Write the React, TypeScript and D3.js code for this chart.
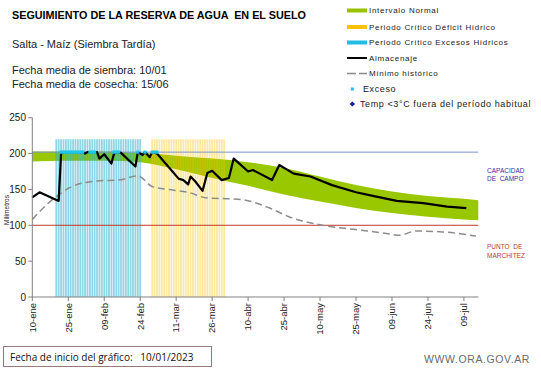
import React from "react";
import * as d3 from "d3";

const W = 541;
const H = 368;

const startDate = "2023-01-10";
const endDate = "2023-07-15";
const tickLabels = ["10-ene", "25-ene", "09-feb", "24-feb", "11-mar", "26-mar", "10-abr", "25-abr", "10-may", "25-may", "09-jun", "24-jun", "09-jul"];
const yTicks = [0, 50, 100, 150, 200, 250];

const capacidadCampo = 202;
const puntoMarchitez = 100;
const periodoTope = 220;
const periodoExcesos = ["2023-01-20", "2023-02-24"];
const periodoDeficit = ["2023-03-01", "2023-03-31"];

// [fecha, superior, inferior]
const intervaloNormal: [string, number, number][] = [
  ["2023-01-10", 203, 189],
  ["2023-01-25", 203, 190],
  ["2023-02-09", 203, 190],
  ["2023-02-24", 201, 188],
  ["2023-03-11", 197, 178],
  ["2023-03-26", 193, 166],
  ["2023-04-10", 188, 155],
  ["2023-04-25", 180, 143],
  ["2023-05-10", 168, 133],
  ["2023-05-25", 156, 124],
  ["2023-06-09", 147, 117],
  ["2023-06-24", 141, 112],
  ["2023-07-09", 137, 108],
  ["2023-07-15", 135, 107],
];

const almacenaje: [string, number][] = [
  ["2023-01-10", 139], ["2023-01-13", 146], ["2023-01-21", 134], ["2023-01-22", 200],
  ["2023-01-23", 202], ["2023-01-31", 202], ["2023-02-01", 200], ["2023-02-02", 202],
  ["2023-02-06", 202], ["2023-02-07", 193], ["2023-02-09", 199], ["2023-02-12", 186],
  ["2023-02-13", 199], ["2023-02-14", 202], ["2023-02-16", 201], ["2023-02-22", 182],
  ["2023-02-23", 202], ["2023-02-25", 198], ["2023-02-26", 202], ["2023-02-28", 195],
  ["2023-03-01", 202], ["2023-03-03", 200], ["2023-03-10", 173], ["2023-03-12", 165],
  ["2023-03-14", 163], ["2023-03-16", 157], ["2023-03-17", 168], ["2023-03-19", 161],
  ["2023-03-22", 148], ["2023-03-24", 173], ["2023-03-26", 176], ["2023-03-30", 163],
  ["2023-04-02", 166], ["2023-04-04", 193], ["2023-04-06", 187], ["2023-04-10", 175],
  ["2023-04-12", 177], ["2023-04-20", 163], ["2023-04-23", 184], ["2023-04-29", 172],
  ["2023-05-06", 168], ["2023-05-15", 156], ["2023-05-25", 146], ["2023-06-01", 141],
  ["2023-06-11", 134], ["2023-06-22", 131], ["2023-07-02", 126], ["2023-07-10", 124],
];

const minimoHistorico: [string, number][] = [
  ["2023-01-10", 108], ["2023-01-13", 119], ["2023-01-20", 140], ["2023-01-28", 156],
  ["2023-02-07", 162], ["2023-02-15", 163], ["2023-02-23", 169], ["2023-03-01", 154],
  ["2023-03-10", 149], ["2023-03-16", 146], ["2023-03-24", 138], ["2023-04-01", 137],
  ["2023-04-07", 136], ["2023-04-19", 124], ["2023-04-27", 112], ["2023-05-11", 100],
  ["2023-05-25", 94], ["2023-06-08", 88], ["2023-06-12", 86], ["2023-06-19", 92],
  ["2023-06-29", 91], ["2023-07-14", 85],
];

const excesoDias = [
  "2023-01-22", "2023-01-23", "2023-01-24", "2023-01-25", "2023-01-26", "2023-01-27",
  "2023-01-28", "2023-01-29", "2023-01-30", "2023-01-31", "2023-02-03", "2023-02-04",
  "2023-02-05", "2023-02-13", "2023-02-14", "2023-02-15", "2023-02-23", "2023-02-26",
  "2023-03-01", "2023-03-02", "2023-03-03",
];

const parse = d3.timeParse("%Y-%m-%d");
const FONT = "Liberation Sans, Arial, sans-serif";

export default function App() {
  const t0 = parse(startDate)!;
  const x = d3.scaleTime().domain([t0, parse(endDate)!]).range([32.3, 478.3]);
  const y = d3.scaleLinear().domain([0, 250]).range([297, 117.7]);
  const dayW = x(d3.timeDay.offset(t0, 1)) - x(t0);

  const area = d3
    .area<[string, number, number]>()
    .x((d) => x(parse(d[0])!))
    .y0((d) => y(d[2]))
    .y1((d) => y(d[1]))
    .curve(d3.curveMonotoneX);
  const lineAlm = d3
    .line<[string, number]>()
    .x((d) => x(parse(d[0])!))
    .y((d) => y(d[1]));
  const lineMin = d3
    .line<[string, number]>()
    .x((d) => x(parse(d[0])!))
    .y((d) => y(d[1]))
    .curve(d3.curveMonotoneX);

  const days = (p: string[]) => d3.timeDay.range(parse(p[0])!, d3.timeDay.offset(parse(p[1])!, 1));
  const bars = (p: string[], color: string, op: number) =>
    days(p).map((d, i) => (
      <rect key={i} x={x(d) - dayW * 0.38} width={dayW * 0.76} y={y(periodoTope)} height={y(0) - y(periodoTope)} fill={color} fillOpacity={op} />
    ));

  const [x0, x1] = x.range();
  const legendRows = [
    { label: "Intervalo Normal", kind: "patch", color: "#99c200", cy: 10.5 },
    { label: "Periodo Crítico Déficit Hídrico", kind: "patch", color: "#ffc000", cy: 27 },
    { label: "Periodo Crítico Excesos Hídricos", kind: "patch", color: "#22bde6", cy: 42.5 },
    { label: "Almacenaje", kind: "line", color: "#000", cy: 58 },
    { label: "Mínimo histórico", kind: "dash", color: "#8c8c8c", cy: 73.5 },
  ];

  return (
    <svg width={W} height={H} style={{ position: "absolute", left: 0, top: 0, background: "#fff" }} fontFamily={FONT}>
      <text x={12} y={19} fontSize={10.8} fontWeight="bold" fill="#000" style={{ whiteSpace: "pre" }}>SEGUIMIENTO DE LA RESERVA DE AGUA  EN EL SUELO</text>
      <text x={12} y={47.5} fontSize={11} fill="#222">Salta - Maíz (Siembra Tardía)</text>
      <text x={12} y={73.5} fontSize={11} fill="#222">Fecha media de siembra: 10/01</text>
      <text x={12} y={87.5} fontSize={11} fill="#222">Fecha media de cosecha: 15/06</text>

      {legendRows.map((r) => (
        <g key={r.label}>
          {r.kind === "patch" && <rect x={347} y={r.cy - 2} width={20} height={4} fill={r.color} />}
          {r.kind === "line" && <line x1={347} x2={367} y1={r.cy} y2={r.cy} stroke={r.color} strokeWidth={2} />}
          {r.kind === "dash" && <line x1={347} x2={367} y1={r.cy} y2={r.cy} stroke={r.color} strokeWidth={1.5} strokeDasharray="9,3" />}
          <text x={369} y={r.cy + 2.8} fontSize={8} letterSpacing={0.7} fill="#222">{r.label}</text>
        </g>
      ))}
      <rect x={350.8} y={87.5} width={3} height={3} fill="#22bde6" />
      <text x={363} y={92} fontSize={9} letterSpacing={0.6} fill="#222">Exceso</text>
      <path d="M352.3,101.5 L355,104 L352.3,106.5 L349.6,104 Z" fill="#1a1aa0" />
      <text x={360} y={107} fontSize={9} letterSpacing={0.6} fill="#222">Temp &lt;3°C fuera del período habitual</text>

      <path d={area(intervaloNormal)!} fill="#99c800" />
      {bars(periodoExcesos, "#22aed0", 0.5)}
      {bars(periodoDeficit, "#ffc000", 0.36)}

      <line x1={x0} x2={x1} y1={y(capacidadCampo)} y2={y(capacidadCampo)} stroke="#7f93cc" strokeWidth={1} />
      <line x1={x0} x2={x1} y1={y(puntoMarchitez)} y2={y(puntoMarchitez)} stroke="#c0392b" strokeWidth={1} />

      <path d={lineMin(minimoHistorico)!} fill="none" stroke="#8c8c8c" strokeWidth={1.5} strokeDasharray="7,4" />
      <path d={lineAlm(almacenaje)!} fill="none" stroke="#000" strokeWidth={2.2} strokeLinejoin="round" />
      {excesoDias.map((d) => (
        <rect key={d} x={x(parse(d)!) - 1.6} y={y(capacidadCampo) - 1.6} width={3.2} height={3.2} fill="#22c4ec" />
      ))}

      {/* ejes */}
      <line x1={x0} x2={x0} y1={y(250)} y2={y(0)} stroke="#808080" />
      {yTicks.map((v) => (
        <g key={v}>
          <line x1={x0 - 4} x2={x0} y1={y(v)} y2={y(v)} stroke="#808080" />
          <text x={26} y={y(v) + 3.5} fontSize={10} textAnchor="end" fill="#222">{v}</text>
        </g>
      ))}
      <text transform={`translate(8.5,210) rotate(-90)`} fontSize={6.5} textAnchor="middle" fill="#222">Milímetros</text>
      <line x1={x0} x2={x1} y1={y(0)} y2={y(0)} stroke="#808080" />
      {tickLabels.map((l, i) => {
        const tx = x(d3.timeDay.offset(t0, 15 * i));
        return (
          <g key={l}>
            <line x1={tx} x2={tx} y1={y(0)} y2={y(0) + 4} stroke="#808080" />
            <text transform={`translate(${tx + 3.3},${y(0) + 6}) rotate(-90)`} fontSize={9.5} textAnchor="end" fill="#222">{l}</text>
          </g>
        );
      })}

      <text x={487} y={172.5} fontSize={6.5} fill="#3333aa" style={{ whiteSpace: "pre" }}>CAPACIDAD</text>
      <text x={487} y={181} fontSize={6.5} fill="#3333aa" style={{ whiteSpace: "pre" }}>DE  CAMPO</text>
      <text x={487} y={249} fontSize={6.5} fill="#c0392b" style={{ whiteSpace: "pre" }}>PUNTO  DE</text>
      <text x={487} y={257.5} fontSize={6.5} fill="#c0392b">MARCHITEZ</text>

      <rect x={3.5} y={346.5} width={208} height={20} fill="#fff" stroke="#977b7b" />
      <text x={10} y={361} fontSize={10} fontFamily="Open Sans, sans-serif" fill="#111" style={{ whiteSpace: "pre" }}>Fecha de inicio del gráfico:   10/01/2023</text>
      <text x={424} y={363} fontSize={10.5} letterSpacing={0.6} fill="#6a6a6a">WWW.ORA.GOV.AR</text>
    </svg>
  );
}
